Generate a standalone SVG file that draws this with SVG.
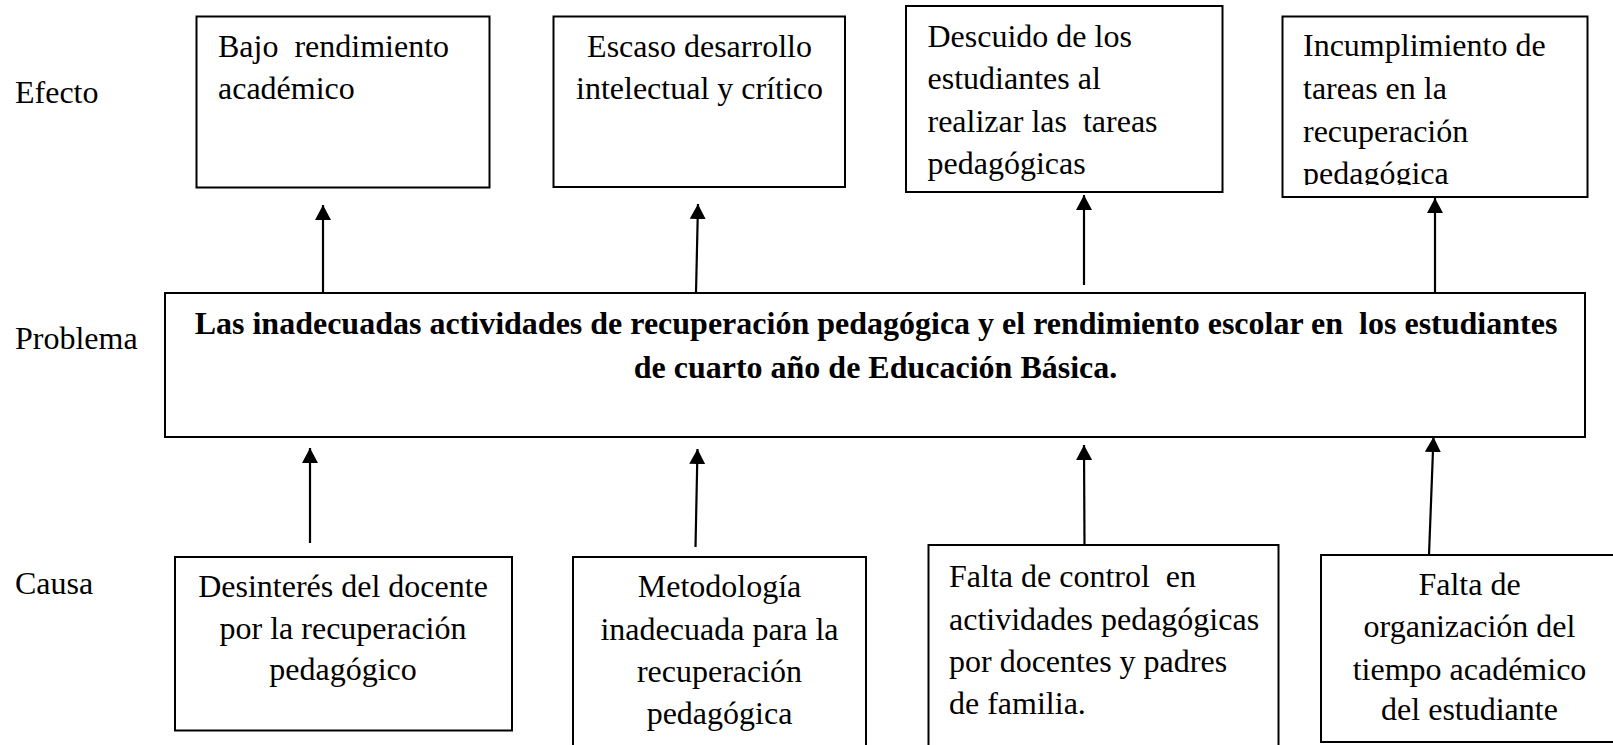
<svg xmlns="http://www.w3.org/2000/svg" width="1613" height="745" viewBox="0 0 1613 745">
<style>
.box{fill:#fff;stroke:#000;stroke-width:2}
.t{font-family:"Liberation Serif","Times New Roman",serif;font-size:32px;fill:#000}
.b{font-family:"Liberation Serif","Times New Roman",serif;font-size:32px;font-weight:bold;fill:#000}
.c{text-anchor:middle}
.arr{stroke:#000;stroke-width:2.2;fill:none;marker-end:url(#ah)}
</style>
<defs>
<marker id="ah" markerUnits="userSpaceOnUse" viewBox="0 0 15 16" refX="15" refY="8" markerWidth="15" markerHeight="16" orient="auto">
<path d="M0,0 L15,8 L0,16 Z" fill="#000"/>
</marker>
<clipPath id="clip4"><rect x="1283" y="17" width="304" height="168"/></clipPath>
</defs>
<rect width="1613" height="745" fill="#fff"/>
<g id="labels">
<text class="t" x="15" y="103">Efecto</text>
<text class="t" x="15" y="349">Problema</text>
<text class="t" x="15" y="594">Causa</text>
</g>
<g id="efecto1">
<rect class="box" x="196.5" y="16.5" width="293" height="171"/>
<text class="t" x="218" y="57" xml:space="preserve">Bajo  rendimiento</text>
<text class="t" x="218" y="99">académico</text>
</g>
<g id="efecto2">
<rect class="box" x="553.5" y="16.5" width="291.5" height="170.5"/>
<text class="t c" x="699.5" y="57">Escaso desarrollo</text>
<text class="t c" x="699.5" y="99">intelectual y crítico</text>
</g>
<g id="efecto3">
<rect class="box" x="906" y="6" width="316.5" height="186"/>
<text class="t" x="927.5" y="47">Descuido de los</text>
<text class="t" x="927.5" y="89">estudiantes al</text>
<text class="t" x="927.5" y="131.5" xml:space="preserve">realizar las  tareas</text>
<text class="t" x="927.5" y="173.5">pedagógicas</text>
</g>
<g id="efecto4">
<rect class="box" x="1282.5" y="16.5" width="305" height="180.5"/>
<g clip-path="url(#clip4)">
<text class="t" x="1303" y="56">Incumplimiento de</text>
<text class="t" x="1303" y="99">tareas en la</text>
<text class="t" x="1303" y="141.5">recuperación</text>
<text class="t" x="1303" y="183.5">pedagógica</text>
</g>
</g>
<g id="problema">
<rect class="box" x="165" y="293" width="1420" height="144"/>
<text class="b c" x="876" y="334" xml:space="preserve">Las inadecuadas actividades de recuperación pedagógica y el rendimiento escolar en  los estudiantes</text>
<text class="b c" x="875.5" y="378">de cuarto año de Educación Básica.</text>
</g>
<g id="causa1">
<rect class="box" x="175" y="557" width="337" height="173.5"/>
<text class="t c" x="343" y="597">Desinterés del docente</text>
<text class="t c" x="343" y="638.5">por la recuperación</text>
<text class="t c" x="343" y="680">pedagógico</text>
</g>
<g id="causa2">
<rect class="box" x="573" y="557" width="293" height="200"/>
<text class="t c" x="719.5" y="597">Metodología</text>
<text class="t c" x="719.5" y="640">inadecuada para la</text>
<text class="t c" x="719.5" y="682">recuperación</text>
<text class="t c" x="719.5" y="723.5">pedagógica</text>
</g>
<g id="causa3">
<rect class="box" x="928.5" y="545" width="350" height="212"/>
<text class="t" x="949" y="587" xml:space="preserve">Falta de control  en</text>
<text class="t" x="949" y="629.5">actividades pedagógicas</text>
<text class="t" x="949" y="672">por docentes y padres</text>
<text class="t" x="949" y="713.5">de familia.</text>
</g>
<g id="causa4">
<rect class="box" x="1321" y="555" width="300" height="187"/>
<text class="t c" x="1469.5" y="595">Falta de</text>
<text class="t c" x="1469.5" y="637">organización del</text>
<text class="t c" x="1469.5" y="679.5">tiempo académico</text>
<text class="t c" x="1469.5" y="720">del estudiante</text>
</g>
<g id="connectors">
<line class="arr" x1="323" y1="293" x2="323" y2="205"/>
<line class="arr" x1="696" y1="293" x2="698" y2="204"/>
<line class="arr" x1="1084" y1="285" x2="1084" y2="195"/>
<line class="arr" x1="1435" y1="293" x2="1435" y2="198"/>
<line class="arr" x1="310" y1="543" x2="310" y2="448"/>
<line class="arr" x1="695.5" y1="547" x2="697.5" y2="449"/>
<line class="arr" x1="1084.5" y1="545" x2="1084" y2="445"/>
<line class="arr" x1="1429" y1="555" x2="1433.5" y2="437"/>
</g>
</svg>
